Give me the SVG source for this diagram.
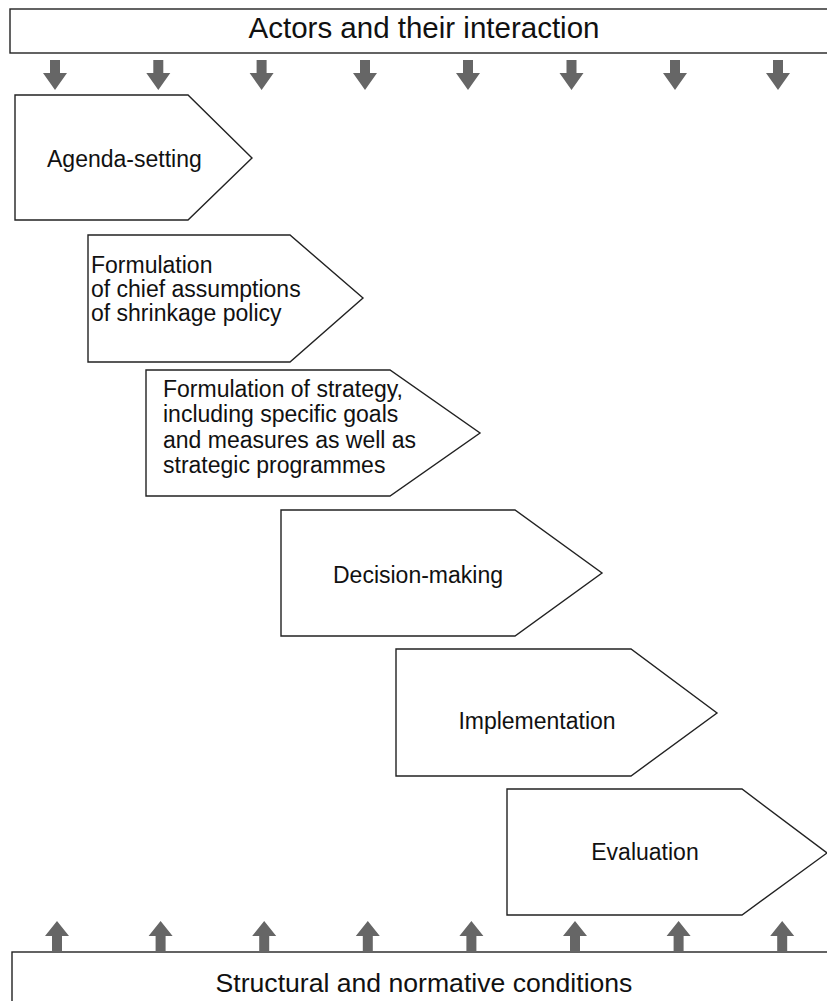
<svg xmlns="http://www.w3.org/2000/svg" width="827" height="1001" viewBox="0 0 827 1001">
<defs>
<style>
.box{fill:#fff;stroke:#222;stroke-width:1.4}
.t{font-family:"Liberation Sans",Arial,sans-serif;fill:#111}
.top{font-size:29.5px}
.bot{font-size:26.6px}
.lab{font-size:23px}
.arr{fill:#666}
</style>
<path id="dn" d="M-5,0 H5 V13 H12 L0,30 L-12,13 H-5 Z"/>
<path id="up" d="M-5,31 H5 V15 H12 L0,0 L-12,15 H-5 Z"/>
</defs>
<rect width="827" height="1001" fill="#fff"/>
<g id="actors">
<rect class="box" x="10" y="9" width="830" height="44"/>
<text class="t top" x="424" y="38" text-anchor="middle">Actors and their interaction</text>
</g>
<g id="conditions">
<rect class="box" x="12" y="952" width="830" height="60"/>
<text class="t bot" x="424" y="992" text-anchor="middle">Structural and normative conditions</text>
</g>
<g id="connectors" class="arr">
<use href="#dn" x="55" y="60"/>
<use href="#dn" x="158.3" y="60"/>
<use href="#dn" x="261.6" y="60"/>
<use href="#dn" x="365" y="60"/>
<use href="#dn" x="468" y="60"/>
<use href="#dn" x="571.5" y="60"/>
<use href="#dn" x="675" y="60"/>
<use href="#dn" x="778" y="60"/>
<use href="#up" x="57" y="921"/>
<use href="#up" x="160.6" y="921"/>
<use href="#up" x="264.2" y="921"/>
<use href="#up" x="367.8" y="921"/>
<use href="#up" x="471.4" y="921"/>
<use href="#up" x="575" y="921"/>
<use href="#up" x="678.6" y="921"/>
<use href="#up" x="782.2" y="921"/>
</g>
<g id="agenda">
<polygon class="box" points="15,95 188,95 252,158 188,220 15,220"/>
<text class="t lab" x="47" y="167">Agenda-setting</text>
</g>
<g id="formulation-assumptions">
<polygon class="box" points="88,235 290,235 363,298 290,362 88,362"/>
<text class="t lab" x="91" y="273">Formulation</text>
<text class="t lab" x="91" y="297">of chief assumptions</text>
<text class="t lab" x="91" y="321">of shrinkage policy</text>
</g>
<g id="formulation-strategy">
<polygon class="box" points="146,370 390,370 480,433 390,496 146,496"/>
<text class="t lab" x="163" y="397">Formulation of strategy,</text>
<text class="t lab" x="163" y="422">including specific goals</text>
<text class="t lab" x="163" y="448">and measures as well as</text>
<text class="t lab" x="163" y="473">strategic programmes</text>
</g>
<g id="decision">
<polygon class="box" points="281,510 515,510 602,573 515,636 281,636"/>
<text class="t lab" x="418" y="583" text-anchor="middle">Decision-making</text>
</g>
<g id="implementation">
<polygon class="box" points="396,649 631,649 717,713 631,776 396,776"/>
<text class="t lab" x="537" y="729" text-anchor="middle">Implementation</text>
</g>
<g id="evaluation">
<polygon class="box" points="507,789 742,789 827,853 742,915 507,915"/>
<text class="t lab" x="645" y="860" text-anchor="middle">Evaluation</text>
</g>
</svg>
